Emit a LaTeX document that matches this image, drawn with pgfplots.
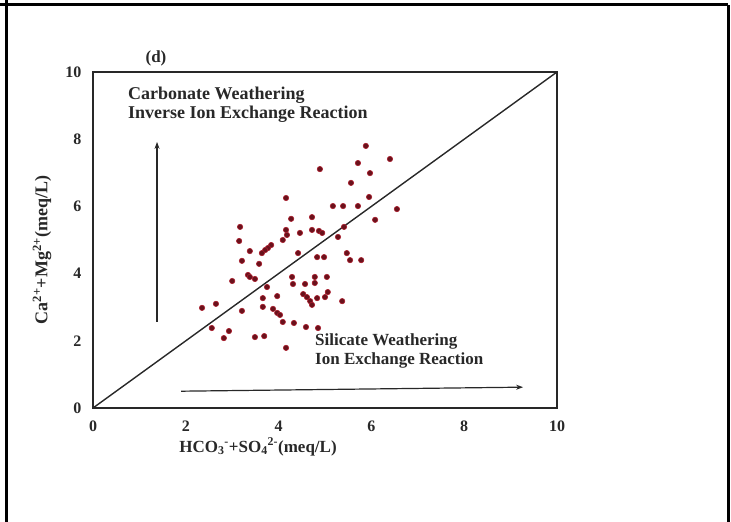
\documentclass[border=0pt]{standalone}
\usepackage{pgfplots}
\pgfplotsset{compat=1.18}
\usepackage{fontspec}
\setmainfont{Liberation Serif}
\usetikzlibrary{arrows.meta}

\definecolor{ink}{RGB}{40,40,40}
\definecolor{dotfill}{RGB}{105,18,28}
\definecolor{dotedge}{RGB}{170,30,45}

\pgfplotstableread{
x y
5.88 7.80
5.71 7.29
6.40 7.41
5.97 6.99
4.89 7.11
5.56 6.70
5.95 6.28
4.16 6.25
5.17 6.01
5.39 6.01
5.71 6.01
6.55 5.92
6.08 5.60
4.27 5.63
4.72 5.68
5.41 5.39
3.17 5.39
4.16 5.30
4.18 5.15
4.09 5.00
4.46 5.21
4.72 5.30
4.87 5.27
4.94 5.21
5.28 5.09
3.15 4.97
3.84 4.85
3.77 4.76
3.71 4.70
3.64 4.61
3.38 4.67
4.42 4.61
5.47 4.61
4.83 4.49
4.98 4.49
3.21 4.38
3.58 4.29
5.54 4.40
5.78 4.40
3.34 3.96
3.38 3.90
3.49 3.84
3.00 3.78
4.29 3.90
4.78 3.90
5.04 3.90
3.75 3.60
4.31 3.69
4.57 3.69
4.78 3.72
5.06 3.45
3.97 3.33
3.66 3.27
4.53 3.39
4.61 3.30
4.68 3.18
4.83 3.27
5.00 3.30
4.72 3.07
5.37 3.18
2.35 2.98
2.65 3.10
3.66 3.01
3.88 2.95
3.97 2.83
4.03 2.77
3.21 2.89
4.09 2.56
4.33 2.53
4.59 2.41
4.85 2.38
2.56 2.38
2.93 2.29
2.82 2.08
3.49 2.11
3.69 2.14
4.16 1.79
}\samples

\begin{document}
\begin{tikzpicture}[x=1pt,y=1pt]
\useasboundingbox (0,0) rectangle (731,522);
% table cell frame
\draw[line width=3pt] (0,517) -- (728,517);
\draw[line width=3pt] (6,522) -- (6,0);
\draw[line width=3pt] (728,517) -- (728,0);

\begin{axis}[
  at={(93pt,114pt)}, anchor=south west,
  width=464pt, height=336pt, scale only axis,
  xmin=0, xmax=10, ymin=0, ymax=10,
  xtick={0,2,...,10}, ytick={0,2,...,10},
  major tick length=0pt,
  axis line style={line width=1.3pt, ink},
  tick label style={font=\fontsize{16}{18}\selectfont\bfseries, text=ink},
  xticklabel style={yshift=-9pt},
  yticklabel style={xshift=-8pt},
  /pgf/number format/assume math mode=true,
  clip=false,
]
% 1:1 reference line
\addplot[ink, line width=1.4pt, no marks] coordinates {(0,0) (10,10)};
% samples
\addplot[only marks, mark=*, mark size=2.7pt,
  mark options={fill=dotfill, draw=dotedge, line width=0.6pt}] table {\samples};
% direction arrows
\draw[ink, line width=1.2pt, -{Stealth[length=7pt,width=5pt]}]
  (axis cs:1.38,2.56) -- (axis cs:1.38,7.92);
\draw[ink, line width=1.2pt, -{Stealth[length=7pt,width=5pt]}]
  (axis cs:1.90,0.50) -- (axis cs:9.27,0.62);
\end{axis}

\node[font=\fontsize{17}{20}\selectfont\bfseries, text=ink] at (156,464) {(d)};
\node[font=\fontsize{18}{21}\selectfont\bfseries, text=ink, anchor=base west, inner sep=0pt]
  at (128,422) {Carbonate Weathering};
\node[font=\fontsize{18}{21}\selectfont\bfseries, text=ink, anchor=base west, inner sep=0pt]
  at (128,403) {Inverse Ion Exchange Reaction};
\node[font=\fontsize{17}{20}\selectfont\bfseries, text=ink, anchor=base west, inner sep=0pt]
  at (315,176) {Silicate Weathering};
\node[font=\fontsize{17}{20}\selectfont\bfseries, text=ink, anchor=base west, inner sep=0pt]
  at (315,157) {Ion Exchange Reaction};
\node[font=\fontsize{17}{20}\selectfont\bfseries, text=ink] at (258,75)
  {HCO\textsubscript{3}\textsuperscript{-}+SO\textsubscript{4}\textsuperscript{2-}(meq/L)};
\node[font=\fontsize{18}{21}\selectfont\bfseries, text=ink, rotate=90] at (42,272)
  {Ca\textsuperscript{2+}+Mg\textsuperscript{2+}(meq/L)};
\end{tikzpicture}
\end{document}
